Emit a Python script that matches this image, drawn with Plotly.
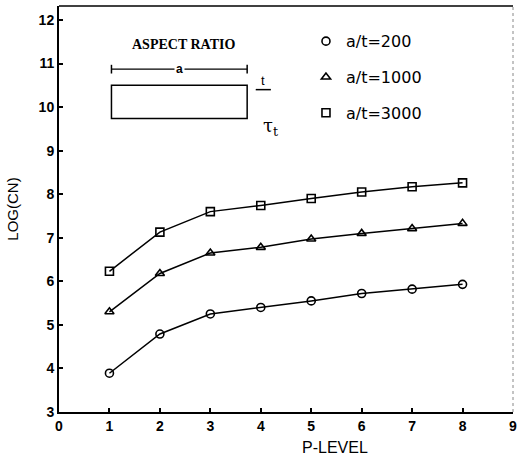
import plotly.graph_objects as go

p_level = [1, 2, 3, 4, 5, 6, 7, 8]
log_cn_200 = [3.89, 4.79, 5.25, 5.40, 5.55, 5.72, 5.82, 5.93]
log_cn_1000 = [5.30, 6.18, 6.65, 6.78, 6.97, 7.10, 7.21, 7.33]
log_cn_3000 = [6.23, 7.13, 7.60, 7.74, 7.90, 8.05, 8.17, 8.26]
series_names = ["a/t=200", "a/t=1000", "a/t=3000"]
x_ticks = [0, 1, 2, 3, 4, 5, 6, 7, 8, 9]
y_ticks = [3, 4, 5, 6, 7, 8, 9, 10, 11, 12]

FONT = "Liberation Sans"
fig = go.Figure()
symbols = ["circle-open", "triangle-up-open", "square-open"]
for i, (name, vals) in enumerate(zip(series_names, [log_cn_200, log_cn_1000, log_cn_3000])):
    fig.add_trace(go.Scatter(
        x=p_level, y=vals, mode="lines", showlegend=False, hoverinfo="skip",
        line=dict(color="black", width=1.5),
    ))
    fig.add_trace(go.Scatter(
        x=p_level, y=vals, name=name, mode="markers",
        legendgroup=name,
        marker=dict(symbol=symbols[i], size=8, color="black", line=dict(width=1.6, color="black")),
    ))

fig.update_layout(
    width=518, height=458,
    margin=dict(l=59, r=1, t=6, b=46),
    paper_bgcolor="white", plot_bgcolor="white",
    font=dict(family=FONT, color="black", size=12),
    showlegend=True,
    legend=dict(x=0.544, y=0.955, xanchor="left", yanchor="top",
                bgcolor="rgba(0,0,0,0)", font=dict(size=16, family="DejaVu Sans", color="black"),
                tracegroupgap=12, itemwidth=30),
    xaxis=dict(range=[0, 9], tickvals=x_ticks, ticktext=[str(v) for v in x_ticks],
               showgrid=False, zeroline=False, showline=True, linecolor="black", linewidth=2,
               ticks="inside", ticklen=4, tickwidth=1.5, tickcolor="black",
               ticklabeloverflow="allow",
               tickfont=dict(size=14, family=FONT, weight="bold", color="black")),
    yaxis=dict(range=[3, 12.32], tickvals=y_ticks, ticktext=[str(v) for v in y_ticks],
               showgrid=False, zeroline=False, showline=True, linecolor="black", linewidth=2,
               ticks="inside", ticklen=4, tickwidth=1.5, tickcolor="black",
               tickfont=dict(size=14, family=FONT, weight="bold", color="black"),
               title=dict(text="LOG(CN)", font=dict(size=15, family=FONT, color="black"), standoff=16)),
)

fig.add_annotation(xref="paper", yref="paper", x=0.609, y=0, yshift=-35, yanchor="middle",
                   text="P-LEVEL", showarrow=False, font=dict(size=16, family=FONT, color="black"))

# frame top and right
fig.add_shape(type="line", xref="paper", yref="paper", x0=0, x1=1, y0=1, y1=1,
              line=dict(color="black", width=1.5))
fig.add_shape(type="line", xref="paper", yref="paper", x0=1, x1=1, y0=0, y1=1,
              line=dict(color="#888", width=1, dash="dot"))

# aspect ratio sketch
fig.add_shape(type="rect", x0=1.04, x1=3.73, y0=9.74, y1=10.5,
              line=dict(color="black", width=1.5))
fig.add_shape(type="line", x0=1.04, x1=3.73, y0=10.87, y1=10.87, line=dict(color="black", width=1.2))
fig.add_shape(type="line", x0=1.04, x1=1.04, y0=10.77, y1=10.97, line=dict(color="black", width=1.5))
fig.add_shape(type="line", x0=3.73, x1=3.73, y0=10.77, y1=10.97, line=dict(color="black", width=1.5))
fig.add_annotation(x=2.38, y=10.87, text="a", showarrow=False, bgcolor="white",
                   font=dict(size=12, family=FONT, weight="bold", color="black"))
fig.add_annotation(x=2.46, y=11.43, text="ASPECT RATIO", showarrow=False,
                   font=dict(size=14, family="Liberation Sans Narrow", weight="bold", color="black"))
fig.add_annotation(x=4.05, y=10.6, text="t", showarrow=False,
                   font=dict(size=13, family=FONT, color="black"))
fig.add_shape(type="line", x0=3.9, x1=4.2, y0=10.4, y1=10.4, line=dict(color="black", width=1.5))
fig.add_annotation(x=4.2, y=9.55, text="τ<sub>t</sub>", showarrow=False,
                   font=dict(size=18, family="DejaVu Serif", color="black"))

fig.write_html("out.html")
